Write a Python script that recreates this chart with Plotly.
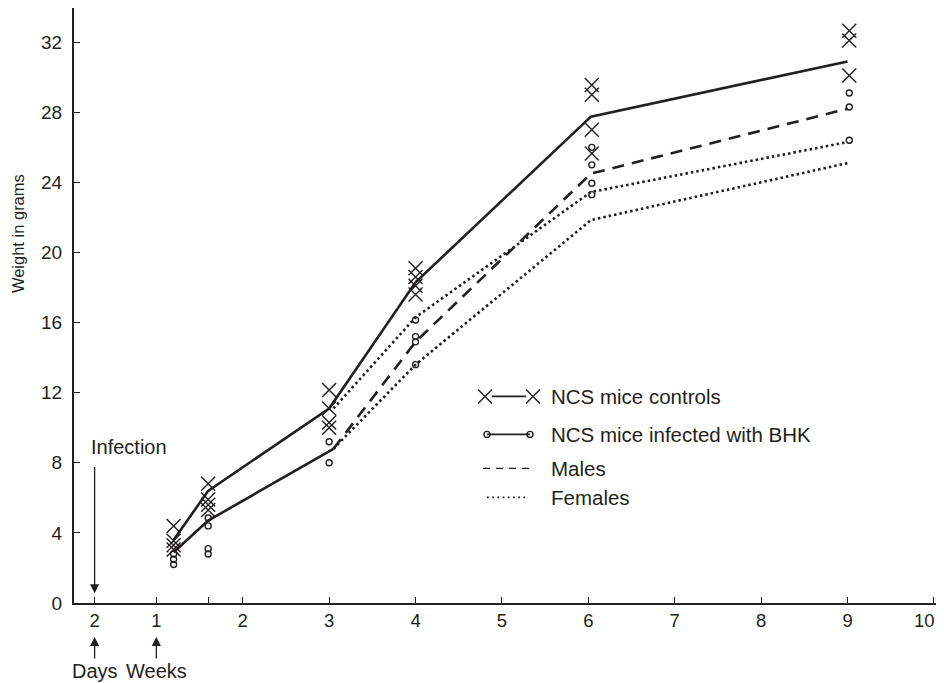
import plotly.graph_objects as go

# ---------------- data (weeks after infection, weight in grams) ----------------
sample_times = [1.2, 1.6, 3.0, 4.0, 6.04, 9.02]
control_weights = [
    [4.4, 3.55, 3.3, 3.05],
    [6.8, 5.9, 5.6, 5.3],
    [12.15, 11.1, 10.3, 10.0],
    [19.1, 18.6, 18.1, 17.6],
    [29.55, 29.0, 27.0, 25.65],
    [32.65, 32.1, 30.1],
]
infected_weights = [
    [2.8, 2.5, 2.2],
    [4.85, 4.4, 3.1, 2.8],
    [9.2, 8.0],
    [16.15, 15.2, 14.9, 13.6],
    [26.0, 25.0, 23.95, 23.3],
    [29.1, 28.3, 26.4],
]

control_mean_times = [1.2, 1.6, 3.0, 4.0, 6.03, 9.0]
control_mean = [3.6, 6.4, 11.1, 18.3, 27.75, 30.9]

infected_mean_times = [1.2, 1.6, 3.05]
infected_mean = [2.9, 4.7, 8.8]

split_times = [3.05, 4.0, 6.03, 9.0]
males_mean = [8.8, 14.9, 24.5, 28.2]
females_control_mean = [11.1, 16.3, 23.45, 26.3]
females_infected_mean = [8.8, 13.6, 21.85, 25.1]

x_tickvals = [2 / 7, 1, 1.6, 2, 3, 4, 5, 6, 7, 8, 9, 10]
x_ticktext = ["2", "1", "", "2", "3", "4", "5", "6", "7", "8", "9", ""]
last_tick_label = "10"   # drawn as an annotation so it stays inside the page
y_tickvals = [0, 4, 8, 12, 16, 20, 24, 28, 32]

legend_labels = ["NCS mice controls", "NCS mice infected with BHK", "Males", "Females"]

INK = "#231f20"
FONT = "Liberation Sans, Arial, Helvetica, sans-serif"

def flatten(times, groups):
    xs, ys = [], []
    for t, g in zip(times, groups):
        for v in g:
            xs.append(t)
            ys.append(v)
    return xs, ys

fig = go.Figure()

# mean lines
fig.add_trace(go.Scatter(x=control_mean_times, y=control_mean, mode="lines",
                         line=dict(color=INK, width=2.6), showlegend=False))
fig.add_trace(go.Scatter(x=infected_mean_times, y=infected_mean, mode="lines",
                         line=dict(color=INK, width=2.6), showlegend=False))
fig.add_trace(go.Scatter(x=split_times, y=males_mean, mode="lines",
                         line=dict(color=INK, width=2.6, dash="12px,8px"), showlegend=False))
fig.add_trace(go.Scatter(x=split_times, y=females_control_mean, mode="lines",
                         line=dict(color=INK, width=2.6, dash="2.5px,3px"), showlegend=False))
fig.add_trace(go.Scatter(x=split_times, y=females_infected_mean, mode="lines",
                         line=dict(color=INK, width=2.6, dash="2.5px,3px"), showlegend=False))

# individual animals
cx, cy = flatten(sample_times, control_weights)
ix, iy = flatten(sample_times, infected_weights)
fig.add_trace(go.Scatter(x=cx, y=cy, mode="markers",
                         marker=dict(symbol="x-thin-open", size=14, color=INK,
                                     line=dict(color=INK, width=1.4)),
                         showlegend=False))
fig.add_trace(go.Scatter(x=ix, y=iy, mode="markers",
                         marker=dict(symbol="circle-open", size=6, color=INK,
                                     line=dict(color=INK, width=1.4)),
                         showlegend=False))

# ---------------- hand-drawn legend (paper-like overlay axes) ----------------
row_y = [0.3472, 0.2834, 0.2263, 0.1775]
text_x = 0.5498
# controls: X ---- X
fig.add_trace(go.Scatter(x=[0.4757, 0.5312], y=[row_y[0]] * 2, mode="markers",
                         marker=dict(symbol="x-thin-open", size=14, color=INK,
                                     line=dict(color=INK, width=1.4)),
                         xaxis="x2", yaxis="y2", showlegend=False, hoverinfo="skip"))
fig.add_trace(go.Scatter(x=[0.4835, 0.5234], y=[row_y[0]] * 2, mode="lines",
                         line=dict(color=INK, width=1.7),
                         xaxis="x2", yaxis="y2", showlegend=False, hoverinfo="skip"))
# infected: o ---- o
fig.add_trace(go.Scatter(x=[0.478, 0.5278], y=[row_y[1]] * 2, mode="lines+markers",
                         line=dict(color=INK, width=1.7),
                         marker=dict(symbol="circle-open", size=6, color=INK,
                                     line=dict(color=INK, width=1.4)),
                         xaxis="x2", yaxis="y2", showlegend=False, hoverinfo="skip"))
# males: dashes
fig.add_trace(go.Scatter(x=[0.4734, 0.5336], y=[row_y[2]] * 2, mode="lines",
                         line=dict(color=INK, width=1.4, dash="7px,6px"),
                         xaxis="x2", yaxis="y2", showlegend=False, hoverinfo="skip"))
# females: dots
fig.add_trace(go.Scatter(x=[0.478, 0.5255], y=[row_y[3]] * 2, mode="lines",
                         line=dict(color=INK, width=1.8, dash="1.8px,3.4px"),
                         xaxis="x2", yaxis="y2", showlegend=False, hoverinfo="skip"))

annotations = []
for label, yy in zip(legend_labels, row_y):
    annotations.append(dict(x=text_x, y=yy, xref="paper", yref="paper", text=label,
                            showarrow=False, xanchor="left", yanchor="middle",
                            font=dict(family=FONT, size=20.5, color=INK)))

# y-axis title (placed as in the original, above the axis centre)
annotations.append(dict(x=-0.0648, y=0.62, xref="paper", yref="paper",
                        text="Weight in grams", showarrow=False, textangle=-90,
                        xanchor="center", yanchor="middle",
                        font=dict(family=FONT, size=16.5, color=INK)))

# last x tick label, kept inside the visible page
annotations.append(dict(x=x_tickvals[-1], y=-0.0286, xref="x", yref="paper",
                        text=last_tick_label, showarrow=False,
                        xanchor="right", yanchor="middle", xshift=3,
                        font=dict(family=FONT, size=18.5, color=INK)))

# Infection arrow and label
annotations.append(dict(x=2 / 7, y=0.55, xref="x", yref="y", ax=2 / 7, ay=7.85,
                        axref="x", ayref="y", text="", showarrow=True,
                        arrowhead=2, arrowsize=1.4, arrowwidth=1.3, arrowcolor=INK))
annotations.append(dict(x=0.224, y=8.9, xref="x", yref="y", text="Infection",
                        showarrow=False, xanchor="left", yanchor="middle",
                        font=dict(family=FONT, size=20, color=INK)))
# Days / Weeks arrows below the axis
for xv, lab in [(2 / 7, "Days"), (1, "Weeks")]:
    annotations.append(dict(x=xv, y=-0.0571, xref="x", yref="paper", ax=0, ay=34,
                            text=lab, showarrow=True, arrowhead=2, arrowsize=1.4,
                            arrowwidth=1.3, arrowcolor=INK,
                            font=dict(family=FONT, size=20, color=INK)))

fig.update_layout(
    width=936, height=675,
    margin=dict(l=66, r=6, t=0, b=80, autoexpand=False),
    paper_bgcolor="white", plot_bgcolor="white",
    font=dict(family=FONT, color=INK),
    showlegend=False,
    annotations=annotations,
    xaxis=dict(range=[0.047, 10.047], showline=True, linecolor=INK, linewidth=2,
               ticks="inside", ticklen=6, tickwidth=1.3, tickcolor=INK,
               tickvals=x_tickvals, ticktext=x_ticktext,
               tickfont=dict(family=FONT, size=18.5, color=INK),
               showgrid=False, zeroline=False, ticklabelstandoff=0, automargin=False),
    yaxis=dict(range=[0, 33.95], showline=True, linecolor=INK, linewidth=2,
               ticks="inside", ticklen=6, tickwidth=1.3, tickcolor=INK,
               tickvals=y_tickvals,
               tickfont=dict(family=FONT, size=19, color=INK),
               showgrid=False, zeroline=False, ticklabelstandoff=6, automargin=False),
    xaxis2=dict(overlaying="x", range=[0, 1], visible=False),
    yaxis2=dict(overlaying="y", range=[0, 1], visible=False),
)

fig.write_html("out.html")
